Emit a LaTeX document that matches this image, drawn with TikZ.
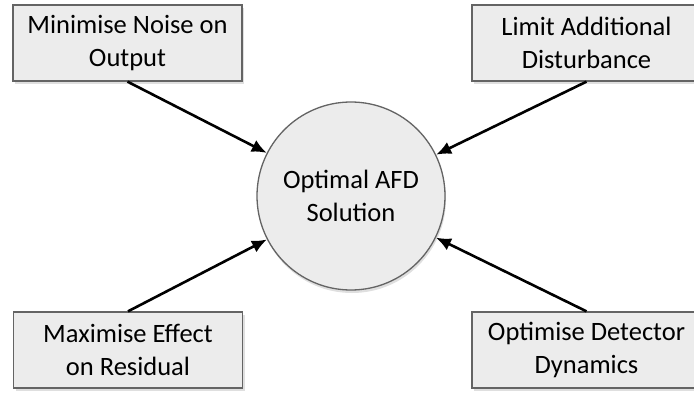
\documentclass[tikz,border=0pt]{standalone}
\usepackage{fontspec}
\setmainfont{Carlito}
\usetikzlibrary{arrows.meta,shadows}
\definecolor{boxfill}{RGB}{236,236,236}
\definecolor{boxline}{RGB}{100,100,100}
\tikzset{
  goalbox/.style={draw=boxline, line width=1.3pt, fill=boxfill, minimum width=229pt, minimum height=76pt,
    align=center, inner sep=0pt, font=\fontsize{26.5}{33}\selectfont,
    drop shadow={opacity=0.25, shadow xshift=2pt, shadow yshift=-3pt}},
  goalcircle/.style={circle, draw=boxline, line width=1.3pt, fill=boxfill, minimum size=188pt,
    align=center, inner sep=0pt, font=\fontsize{26.5}{33}\selectfont,
    drop shadow={opacity=0.25, shadow xshift=1pt, shadow yshift=-3pt}},
  arr/.style={line width=2.6pt, -{Latex[length=15pt,width=13pt]}}
}
\begin{document}
\begin{tikzpicture}[x=1pt,y=-1pt]
\useasboundingbox (0,0) rectangle (694,393);
\clip (0,0) rectangle (694,393);
\node[goalcircle] (c) at (351,196) {Optimal AFD\\Solution};
\node[goalbox] (tl) at (127.5,43) {Minimise Noise on\\Output};
\node[goalbox] (tr) at (586.5,43) {Limit Additional\\Disturbance};
\node[goalbox] (bl) at (128,350) {Maximise Effect\\on Residual};
\node[goalbox] (br) at (586.5,350) {Optimise Detector\\Dynamics};
\draw[arr] (tl.south) -- (c);
\draw[arr] (tr.south) -- (c);
\draw[arr] (bl.north) -- (c);
\draw[arr] (br.north) -- (c);
\end{tikzpicture}
\end{document}
